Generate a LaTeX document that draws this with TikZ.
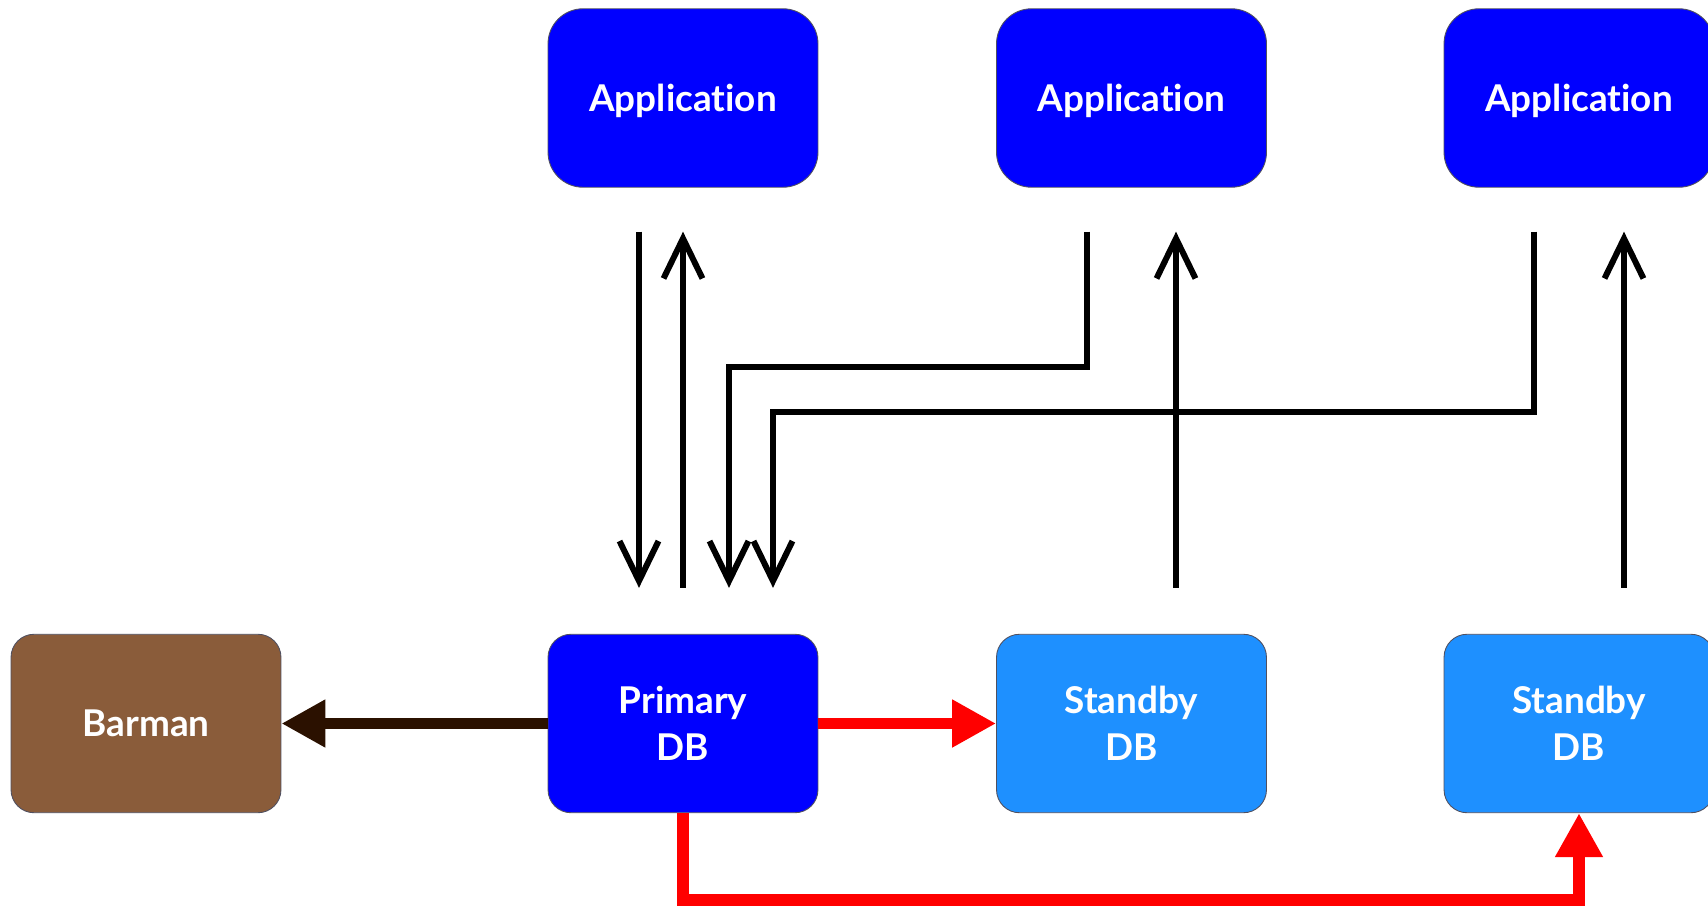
\documentclass[tikz,border=0pt]{standalone}
\usepackage{fontspec}
\setmainfont{Lato}[Ligatures=NoCommon]
\usetikzlibrary{arrows.meta, positioning, calc}
\definecolor{appblue}{HTML}{0000FF}
\definecolor{standbyblue}{HTML}{1E90FF}
\definecolor{barmanbrown}{HTML}{8A5C3A}
\definecolor{backupline}{HTML}{2B1100}
\definecolor{edgecolor}{HTML}{505060}
\definecolor{repred}{HTML}{FF0000}

\begin{document}
\begin{tikzpicture}[
    x=0.02cm, y=-0.02cm,
    every node/.style={font=\bfseries\fontsize{21}{27}\selectfont, text=white, align=center},
    box/.style={draw=edgecolor, line width=0.5pt, minimum width=5.4cm, minimum height=3.57cm, inner sep=0pt},
    appbox/.style={box, fill=appblue, rounded corners=0.7cm, text depth=0pt},
    dbbox/.style={box, rounded corners=0.46cm},
    flow/.style={black, line width=3.4pt, -{Straight Barb[length=0.8cm, width=0.78cm]}},
    repl/.style={repred, line width=6.8pt, -{Triangle[length=0.88cm, width=0.9cm]}},
]
\useasboundingbox (0,0) rectangle (1708,909);

% applications
\node[appbox] (app1) at (683, 98) {Application};
\node[appbox] (app2) at (1131.5, 98) {Application};
\node[appbox] (app3) at (1579, 98) {Application};

% databases and backup
\node[dbbox, fill=barmanbrown] (barman) at (146, 723.5) {Barman};
\node[dbbox, fill=appblue] (primary) at (683, 723.5) {Primary\\DB};
\node[dbbox, fill=standbyblue] (standby1) at (1131.5, 723.5) {Standby\\DB};
\node[dbbox, fill=standbyblue] (standby2) at (1579, 723.5) {Standby\\DB};

% free ends of the query lines
\coordinate (w1s) at ($(app1.south)+(-44,44)$);
\coordinate (w1e) at ($(primary.north)+(-44,-46)$);
\coordinate (r1s) at ($(primary.north)+(0,-46)$);
\coordinate (r1e) at ($(app1.south)+(0,44)$);
\coordinate (w2s) at ($(app2.south)+(-44.5,44)$);
\coordinate (w2e) at ($(primary.north)+(46,-46)$);
\coordinate (w3s) at ($(app3.south)+(-45,44)$);
\coordinate (w3e) at ($(primary.north)+(90,-46)$);
\coordinate (r2s) at ($(standby1.north)+(44.5,-46)$);
\coordinate (r2e) at ($(app2.south)+(44.5,44)$);
\coordinate (r3s) at ($(standby2.north)+(45,-46)$);
\coordinate (r3e) at ($(app3.south)+(45,44)$);

% writes go to the primary, reads come from everywhere
\draw[flow] (w1s) -- (w1e);
\draw[flow] (r1s) -- (r1e);
\draw[flow] (w2s) -- ++(0,135) -| (w2e);
\draw[flow] (w3s) -- ++(0,180) -| (w3e);
\draw[flow] (r2s) -- (r2e);
\draw[flow] (r3s) -- (r3e);

% replication and backup
\coordinate (lowbend) at ($(primary.south)+(0,87)$);
\draw[repl] (primary.east) -- (standby1.west);
\draw[repl] (primary.south) -- (lowbend) -| (standby2.south);
\draw[repl, backupline] (primary.west) -- (barman.east);
\end{tikzpicture}
\end{document}
